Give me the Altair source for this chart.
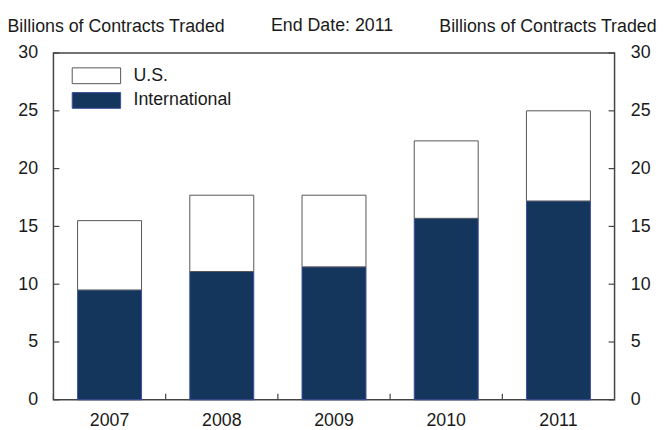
import altair as alt
import pandas as pd

years = ["2007", "2008", "2009", "2010", "2011"]
international = [9.5, 11.1, 11.5, 15.7, 17.2]
us = [6.0, 6.6, 6.2, 6.7, 7.8]
series_names = ["U.S.", "International"]
series_fill = ["white", "#14365d"]
series_stroke = ["#555555", "#3f4f9f"]
y_ticks = [0, 5, 10, 15, 20, 25, 30]
header_text = ["End Date: 2011"]

rows = []
for i, yr in enumerate(years):
    rows.append({"year": yr, "series": "International", "value": international[i], "ord": 0})
    rows.append({"year": yr, "series": "U.S.", "value": us[i], "ord": 1})
df = pd.DataFrame(rows)
ticks_df = pd.DataFrame({"t": y_ticks})
years_df = pd.DataFrame({"year": years})
header_df = pd.DataFrame({"label": header_text})

W, H = 568, 351
FONT = "Liberation Sans"
TXT = "#1a1a1a"
FRAME = "#444444"

yscale = alt.Scale(domain=[0, 30], nice=False, zero=True)
xscale = alt.Scale(domain=years, paddingInner=0, paddingOuter=0)
xaxis = alt.Axis(title=None, labelAngle=0, ticks=False, domain=False, grid=False,
                 labelPadding=12, labelFontSize=18, labelFont=FONT, labelColor=TXT)

bars = alt.Chart(df).mark_bar(width=alt.RelativeBandSize(0.57), strokeWidth=1).encode(
    x=alt.X("year:N", scale=xscale, sort=years, axis=xaxis),
    y=alt.Y("value:Q", stack="zero", scale=yscale,
            axis=alt.Axis(orient="left", values=y_ticks, ticks=False, domain=False, grid=False,
                          labelPadding=16, labelFontSize=18, labelFont=FONT, labelColor=TXT,
                          title="Billions of Contracts Traded", titleAngle=0, titleAlign="left",
                          titleBaseline="alphabetic", titleX=-47, titleY=-22,
                          titleFontSize=18, titleFont=FONT, titleFontWeight="normal",
                          titleColor=TXT)),
    color=alt.Color("series:N", scale=alt.Scale(domain=series_names, range=series_fill),
                    legend=alt.Legend(title=None, orient="none", legendX=18, legendY=14,
                                      symbolType="M-1,-1H5.125V1H-1Z", symbolSize=256,
                                      symbolStrokeColor="#555555", symbolStrokeWidth=1,
                                      labelFontSize=18, labelFont=FONT, labelColor=TXT,
                                      labelOffset=45, rowPadding=5, padding=0)),
    stroke=alt.Stroke("series:N", scale=alt.Scale(domain=series_names, range=series_stroke),
                      legend=None),
    order=alt.Order("ord:Q", sort="ascending"),
)

right_ticks = alt.Chart(ticks_df).mark_rule(color=FRAME, strokeWidth=1.2).encode(
    y=alt.Y("t:Q", scale=yscale,
            axis=alt.Axis(orient="right", values=y_ticks, ticks=False, domain=False, grid=False,
                          labelPadding=16, labelFontSize=18, labelFont=FONT, labelColor=TXT,
                          title="Billions of Contracts Traded", titleAngle=0, titleAlign="right",
                          titleBaseline="alphabetic", titleX=42, titleY=-22,
                          titleFontSize=18, titleFont=FONT, titleFontWeight="normal",
                          titleColor=TXT)),
    x=alt.value(W - 6), x2=alt.value(W),
)

left_ticks = alt.Chart(ticks_df).mark_rule(color=FRAME, strokeWidth=1.2).encode(
    y=alt.Y("t:Q", scale=yscale, axis=None),
    x=alt.value(0), x2=alt.value(6),
)

bottom_ticks = alt.Chart(years_df).mark_rule(color=FRAME, strokeWidth=1.2).encode(
    x=alt.X("year:N", scale=xscale, sort=years, bandPosition=0, axis=xaxis),
    y=alt.value(H), y2=alt.value(H - 6),
)

header = alt.Chart(header_df).mark_text(
    font=FONT, fontSize=18, color=TXT, align="center", baseline="alphabetic"
).encode(
    text="label:N", x=alt.value(W / 2 - 2), y=alt.value(-22),
)

chart = alt.layer(bars, left_ticks, right_ticks, bottom_ticks, header).resolve_axis(
    y="independent"
).properties(
    width=W, height=H,
    background="white",
    autosize=alt.AutoSizeParams(type="none"),
    padding={"left": 46, "top": 43, "right": 46, "bottom": 28},
).configure_view(
    stroke=FRAME, strokeWidth=1.5
)

chart.save("out.html", embed_options={"renderer": "svg", "actions": False})
